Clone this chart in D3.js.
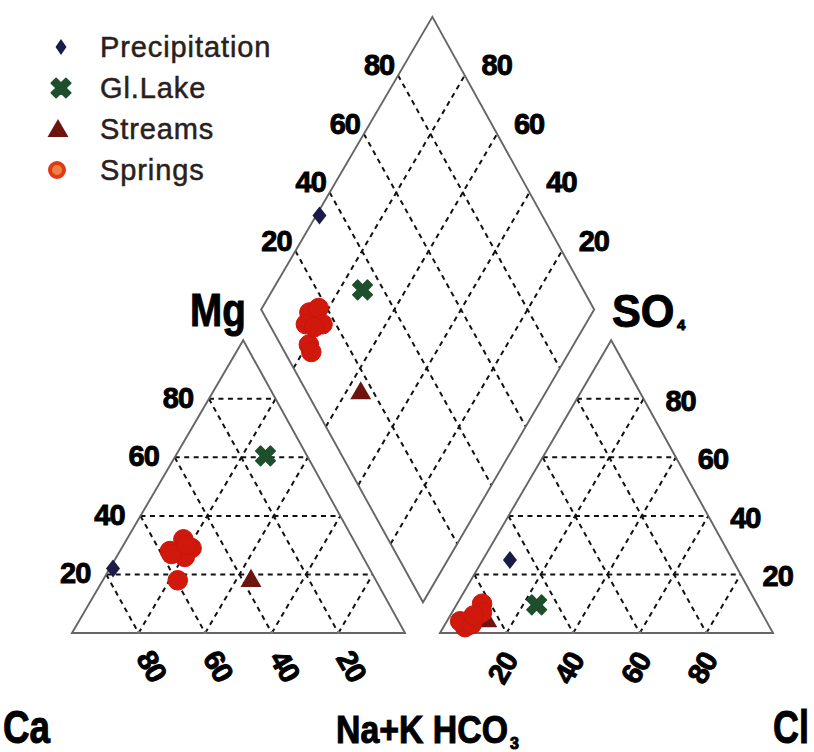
<!DOCTYPE html>
<html><head><meta charset="utf-8">
<script src="https://cdn.jsdelivr.net/npm/d3@7"></script>
<style>body{margin:0;background:#fff}svg{display:block}</style>
</head><body>
<svg id="c" width="814" height="752"></svg>
<script>
// ---------- data ----------
const groups = ["Precipitation", "Gl.Lake", "Streams", "Springs"];
const sampleGroup = ["Precipitation", "Gl.Lake", "Streams",
  "Springs", "Springs", "Springs", "Springs", "Springs", "Springs", "Springs"];
// cations (% meq)
const caValues  = [77, 12.5, 37.6, 57, 51, 50, 53.5, 59.5, 57, 51];
const mgValues  = [22, 60.5, 17.8, 28, 32, 29, 26, 18, 27, 30];
const naValues  = [1, 27, 44.6, 15, 17, 21, 20.5, 22.5, 16, 19];
// anions (% meq)
const hco3Values = [66.9, 66.3, 84, 86, 82.5, 84, 91.5, 92, 89, 87];
const so4Values  = [24.9, 9.6, 4, 6, 10, 7, 2, 4, 3, 6];
const clValues   = [8.2, 24.1, 12, 8, 7.5, 9, 6.5, 4, 8, 7];
const tickValues = [20, 40, 60, 80];

// ---------- geometry ----------
const svg = d3.select("#c");
const S3 = Math.sqrt(3) / 2;
const gap = 0.105;
const xScale = d3.scaleLinear().domain([0, 2 + gap]).range([72, 773]);
const yScale = d3.scaleLinear().domain([0, 1]).range([633, 295]);
const shear = 0.016;
const P = (xu, yu) => [xScale(xu) + shear * (yScale(0) - yScale(yu)), yScale(yu)];

const cat = (ca, mg, na) => { const s = ca + mg + na; return P(na / s + mg / s / 2, mg / s * S3); };
const an = (h, so4, cl) => { const s = h + so4 + cl; return P(1 + gap + cl / s + so4 / s / 2, so4 / s * S3); };
const dia = (na, h) => { const n = na / 100, hh = h / 100; const t = 2 + gap - hh - n; return P(n + t / 2, t * S3); };

const line = d3.line();
const outline = "#666";
const gridG = svg.append("g").attr("fill", "none").attr("stroke", "#111")
  .attr("stroke-width", 2).attr("stroke-dasharray", "5,4.5");
const frameG = svg.append("g").attr("fill", "none").attr("stroke", outline).attr("stroke-width", 1.9);

tickValues.forEach(v => {
  // left triangle grid
  gridG.append("path").attr("d", line([cat(100 - v, v, 0), cat(0, v, 100 - v)]));
  gridG.append("path").attr("d", line([cat(v, 100 - v, 0), cat(v, 0, 100 - v)]));
  gridG.append("path").attr("d", line([cat(100 - v, 0, v), cat(0, 100 - v, v)]));
  // right triangle grid
  gridG.append("path").attr("d", line([an(100 - v, v, 0), an(0, v, 100 - v)]));
  gridG.append("path").attr("d", line([an(v, 100 - v, 0), an(v, 0, 100 - v)]));
  gridG.append("path").attr("d", line([an(100 - v, 0, v), an(0, 100 - v, v)]));
  // diamond grid
  gridG.append("path").attr("d", line([dia(v, 100), dia(v, 0)]));
  gridG.append("path").attr("d", line([dia(0, v), dia(100, v)]));
});

// frames
frameG.append("path").attr("d", line([cat(100, 0, 0), cat(0, 100, 0), cat(0, 0, 100)]) + "Z");
frameG.append("path").attr("d", line([an(100, 0, 0), an(0, 100, 0), an(0, 0, 100)]) + "Z");
frameG.append("path").attr("d", line([dia(0, 100), dia(0, 0), dia(100, 0), dia(100, 100)]) + "Z");

// small ticks on bases
const tickG = svg.append("g").attr("stroke", "#777").attr("stroke-width", 2.5);
tickValues.forEach(v => {
  const a = cat(100 - v, 0, v), b = an(100 - v, 0, v);
  tickG.append("line").attr("x1", a[0]).attr("x2", a[0]).attr("y1", a[1] - 2).attr("y2", a[1] + 1);
  tickG.append("line").attr("x1", b[0]).attr("x2", b[0]).attr("y1", b[1] - 2).attr("y2", b[1] + 1);
});

// ---------- tick labels ----------
const labG = svg.append("g").attr("font-family", "'Liberation Sans', Arial, sans-serif")
  .attr("font-weight", "bold").attr("font-size", 29).attr("fill", "#000")
  .attr("stroke", "#000").attr("stroke-width", 0.9).attr("letter-spacing", -1)
  .attr("text-anchor", "middle").attr("dominant-baseline", "central");
tickValues.forEach(v => {
  let p = cat(100 - v, v, 0);
  labG.append("text").attr("x", p[0] - 31).attr("y", p[1] - 1).text(v);
  p = an(0, v, 100 - v);
  labG.append("text").attr("x", p[0] + 37).attr("y", p[1] + 2).text(v);
  p = cat(v, 0, 100 - v);
  labG.append("text").attr("transform", `translate(${p[0] + 13},${p[1] + 33}) rotate(60)`).text(v);
  p = an(100 - v, 0, v);
  labG.append("text").attr("transform", `translate(${p[0] - 4},${p[1] + 35}) rotate(-60)`).text(v);
  p = dia(0, 100 - v);
  labG.append("text").attr("x", p[0] - 19).attr("y", p[1] - 10).text(v);
  p = dia(100 - v, 0);
  labG.append("text").attr("x", p[0] + 32).attr("y", p[1] - 10).text(v);
});

// ---------- axis names ----------
const nameG = svg.append("g").attr("font-family", "'Liberation Sans', Arial, sans-serif")
  .attr("font-weight", "bold").attr("fill", "#000").attr("stroke", "#000").attr("stroke-width", 1);
const bigLabel = (x, y, size, sx, txt) =>
  nameG.append("text").attr("transform", `translate(${x},${y}) scale(${sx},1)`)
    .attr("font-size", size).text(txt);
bigLabel(190, 326, 46, 0.84, "Mg");
bigLabel(612, 327, 46, 0.94, "SO");
bigLabel(677, 330, 15, 1, "4");
bigLabel(3, 743, 46, 0.8, "Ca");
bigLabel(336, 743, 38, 0.89, "Na+K HCO");
bigLabel(510, 749, 16, 1, "3");
bigLabel(773, 743, 46, 0.78, "Cl");

// ---------- markers ----------
const style = {
  "Precipitation": { fill: "#1b1b48", stroke: "none", sw: 0 },
  "Gl.Lake": { fill: "#1d4f2c", stroke: "#1d4f2c", sw: 1.5 },
  "Streams": { fill: "#6e1410", stroke: "none", sw: 0 },
  "Springs": { fill: "#d0190c", stroke: "#c8160a", sw: 1 }
};
const shapePath = {
  "Precipitation": "M0,-9L7,0L0,9L-7,0Z",
  "Gl.Lake": d3.symbol().type(d3.symbolCross).size(240)(),
  "Streams": d3.symbol().type(d3.symbolTriangle).size(190)(),
  "Springs": d3.symbol().type(d3.symbolCircle).size(Math.PI * 9.8 * 9.8)()
};
const rot = g => g === "Gl.Lake" ? " rotate(45)" : "";
const ptG = svg.append("g");
groups.forEach(g => {
  sampleGroup.forEach((sg, i) => {
    if (sg !== g) return;
    const pts = [cat(caValues[i], mgValues[i], naValues[i]),
                 an(hco3Values[i], so4Values[i], clValues[i]),
                 dia(naValues[i], hco3Values[i])];
    pts.forEach(p => {
      ptG.append("path").attr("d", shapePath[g])
        .attr("transform", `translate(${p[0]},${p[1]})${rot(g)}`)
        .attr("fill", style[g].fill).attr("stroke", style[g].stroke).attr("stroke-width", style[g].sw)
        .attr("stroke-linejoin", "round");
    });
  });
});

// ---------- legend ----------
const legY = d3.scalePoint().domain(groups).range([47, 170]);
const leg = svg.append("g");
groups.forEach(g => {
  const y = legY(g);
  let path = shapePath[g], tr = `translate(61,${y})`;
  if (g === "Precipitation") path = "M0,-8L5.5,0L0,8L-5.5,0Z";
  if (g === "Streams") tr = `translate(58,${y + 2})`;
  if (g === "Springs") {
    leg.append("circle").attr("cx", 57).attr("cy", y).attr("r", 7)
      .attr("fill", "#f08048").attr("stroke", "#e03a14").attr("stroke-width", 4);
  } else {
    leg.append("path").attr("d", path).attr("transform", tr + rot(g))
      .attr("fill", style[g].fill).attr("stroke", style[g].stroke).attr("stroke-width", style[g].sw)
      .attr("stroke-linejoin", "round");
  }
  leg.append("text").attr("x", 100).attr("y", y + 10)
    .attr("font-family", "'Liberation Sans', Arial, sans-serif").attr("font-size", 29)
    .attr("letter-spacing", 0.9).attr("fill", "#2a201c").attr("stroke", "#2a201c")
    .attr("stroke-width", 0.5).text(g);
});
</script>
</body></html>
